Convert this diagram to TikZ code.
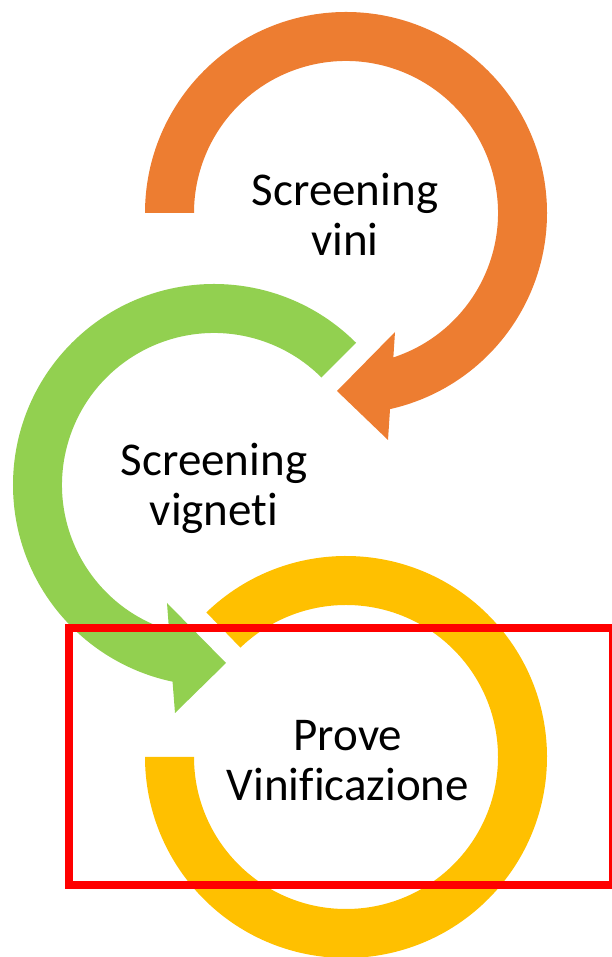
\documentclass[tikz,border=0pt]{standalone}
\usepackage{fontspec}
\setmainfont{Carlito}[RawFeature={-liga}]
\usetikzlibrary{calc}
\definecolor{ringorange}{HTML}{ED7D31}
\definecolor{ringgreen}{HTML}{92D050}
\definecolor{ringyellow}{HTML}{FFC000}
\definecolor{frame}{HTML}{FF0000}
\begin{document}
\begin{tikzpicture}[x=1pt,y=1pt,
  label text/.style={align=center,text=black,font=\fontsize{47}{50}\selectfont,inner sep=0pt},
  frame box/.style={draw=frame,line width=8pt}]
\useasboundingbox (0,0) rectangle (612,957);
\clip (0,0) rectangle (612,957);
% ring centres
\coordinate (O) at (346,744);
\coordinate (G) at (214,472);
\coordinate (Y) at (346,200);
% orange ring: from the left, clockwise over the top, head near the bottom
\fill[ringorange] ($(O)+(180:201pt)$) arc[start angle=180,end angle=-77.35,radius=201pt]
  -- (388,517) -- (337,566) -- (395,625)
  -- ($(O)+(-71.85:152pt)$) arc[start angle=-71.85,end angle=180,radius=152pt] -- cycle;
% green ring: from the upper right, anticlockwise, head at the bottom
\fill[ringgreen] ($(G)+(45:201pt)$) arc[start angle=45,end angle=258.1,radius=201pt]
  -- (175,244) -- (226,294) -- (167,354)
  -- ($(G)+(252.8:152pt)$) arc[start angle=252.8,end angle=45,radius=152pt] -- cycle;
% yellow ring: from the upper left, clockwise, flat end on the left
\fill[ringyellow] ($(Y)+(134:201pt)$) arc[start angle=134,end angle=-180,radius=201pt]
  -- ($(Y)+(180:152pt)$) arc[start angle=-180,end angle=134,radius=152pt] -- cycle;
% labels
\node[label text] (vini) at (345,743) {Screening\\vini};
\node[label text] (vigneti) at (214,469) {Screening\\vigneti};
\node[label text] (prove) at (348,196) {Prove\\Vinificazione};
% highlight frame
\draw[frame box] (69,72) rectangle (613,328.5);
\end{tikzpicture}
\end{document}
